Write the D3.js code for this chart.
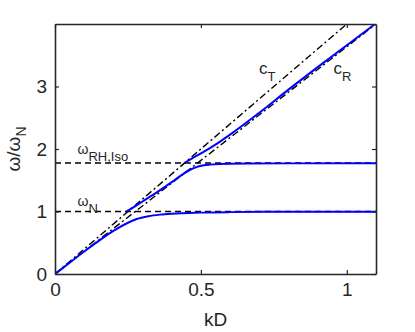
<!DOCTYPE html>
<html lang="en">
<head>
<meta charset="utf-8">
<title>Dispersion</title>
<script src="https://d3js.org/d3.v7.min.js"></script>
<style>
body { margin: 0; background: #fff; }
text { font-family: "Liberation Sans", Arial, Helvetica, sans-serif; fill: #262626; }
</style>
</head>
<body>
<div id="chart"></div>
<script>
// branches of the dispersion curve, [kD, omega/omegaN]
var branchLow = [[0,0],[0.05,0.18],[0.1,0.36],[0.15,0.53],[0.2,0.69],[0.25,0.82],[0.28,0.88],
  [0.32,0.925],[0.36,0.95],[0.4,0.965],[0.5,0.982],[0.6,0.99],[0.8,0.996],[1.1,0.998]];
var branchMid = [[0.245,1.0],[0.27,1.07],[0.3,1.16],[0.35,1.31],[0.4,1.47],[0.43,1.57],[0.46,1.66],
  [0.49,1.72],[0.53,1.75],[0.6,1.765],[0.8,1.77],[1.1,1.772]];
var branchHigh = [[0.445,1.78],[0.47,1.85],[0.5,1.93],[0.55,2.07],[0.6,2.23],[0.7,2.58],
  [0.8,2.95],[0.9,3.31],[1.0,3.66],[1.1,4.01]];
// speed lines through the origin
var lineT = [[0,0],[1.0,4.0]];
var lineR = [[0,0],[1.1,4.0]];
// horizontal asymptotes
var omegaN = 1.0;
var omegaRH = 1.775;
var xTicks = [0, 0.5, 1];
var yTicks = [0, 1, 2, 3];

var W = 415, H = 332;
var margin = {top: 24, right: 39, bottom: 58, left: 55},
    width = W - margin.left - margin.right,
    height = H - margin.top - margin.bottom;

var svg = d3.select("#chart").append("svg")
  .attr("width", W).attr("height", H);

svg.append("defs").append("clipPath").attr("id", "clip")
  .append("rect").attr("width", width).attr("height", height);

var g = svg.append("g")
  .attr("transform", "translate(" + margin.left + "," + margin.top + ")");

var x = d3.scaleLinear().domain([0, 1.1]).range([0, width]);
var y = d3.scaleLinear().domain([0, 4]).range([height, 0]);

var line = d3.line()
  .x(function(d) { return x(d[0]); })
  .y(function(d) { return y(d[1]); });

var plot = g.append("g").attr("clip-path", "url(#clip)");

// dashed asymptotes
[omegaN, omegaRH].forEach(function(v) {
  plot.append("path")
    .datum([[0, v], [1.1, v]])
    .attr("fill", "none").attr("stroke", "#000").attr("stroke-width", 1.4)
    .attr("stroke-dasharray", "6,4")
    .attr("d", line);
});

// dash-dot speed lines
[lineT, lineR].forEach(function(l) {
  plot.append("path")
    .datum(l)
    .attr("fill", "none").attr("stroke", "#000").attr("stroke-width", 1.4)
    .attr("stroke-dasharray", "7,3,2,3")
    .attr("d", line);
});

// blue branches
var smooth = d3.line().curve(d3.curveMonotoneX)
  .x(function(d) { return x(d[0]); })
  .y(function(d) { return y(d[1]); });
[branchLow, branchMid, branchHigh].forEach(function(b) {
  plot.append("path")
    .datum(b)
    .attr("fill", "none").attr("stroke", "#0000ff").attr("stroke-width", 2)
    .attr("d", smooth);
});

// axes box with inward ticks
var ax = g.append("g");
ax.append("g").attr("transform", "translate(0," + height + ")")
  .call(d3.axisBottom(x).tickValues(xTicks).tickSizeInner(-4).tickSizeOuter(0).tickPadding(9)
    .tickFormat(function(d) { return d3.format("")(d); }));
ax.append("g").attr("transform", "translate(0,0)")
  .call(d3.axisTop(x).tickValues(xTicks).tickSizeInner(-4).tickSizeOuter(0).tickFormat(""));
ax.append("g")
  .call(d3.axisLeft(y).tickValues(yTicks).tickSizeInner(-4).tickSizeOuter(0).tickPadding(8)
    .tickFormat(d3.format("d")));
ax.append("g").attr("transform", "translate(" + width + ",0)")
  .call(d3.axisRight(y).tickValues(yTicks).tickSizeInner(-4).tickSizeOuter(0).tickFormat(""));
ax.selectAll(".domain").attr("stroke", "#262626").attr("stroke-width", 1.6);
ax.selectAll(".tick line").attr("stroke", "#262626").attr("stroke-width", 1.2);
ax.selectAll(".tick text").style("font-size", "19px").attr("fill", "#262626");

// axis labels
svg.append("text")
  .attr("x", margin.left + x(0.55)).attr("y", 326)
  .attr("text-anchor", "middle").style("font-size", "19px")
  .text("kD");

var yl = svg.append("text")
  .attr("transform", "translate(20," + (margin.top + height / 2) + ") rotate(-90)")
  .attr("text-anchor", "middle").style("font-size", "19px");
yl.append("tspan").text("ω/ω");
yl.append("tspan").attr("dy", 6).style("font-size", "14px").text("N");

// annotations
function label(px, py, main, sub, mainSize) {
  var t = g.append("text").attr("x", px).attr("y", py).style("font-size", mainSize + "px");
  t.append("tspan").text(main);
  t.append("tspan").attr("dy", 7).style("font-size", "13px").text(sub);
}
label(x(0.077), y(omegaRH) - 9, "ω", "RH,Iso", 14);
label(x(0.077), y(omegaN) - 6, "ω", "N", 14);
label(x(0.699), 50, "c", "T", 17);
label(x(0.954), 50, "c", "R", 17);
</script>
</body>
</html>
